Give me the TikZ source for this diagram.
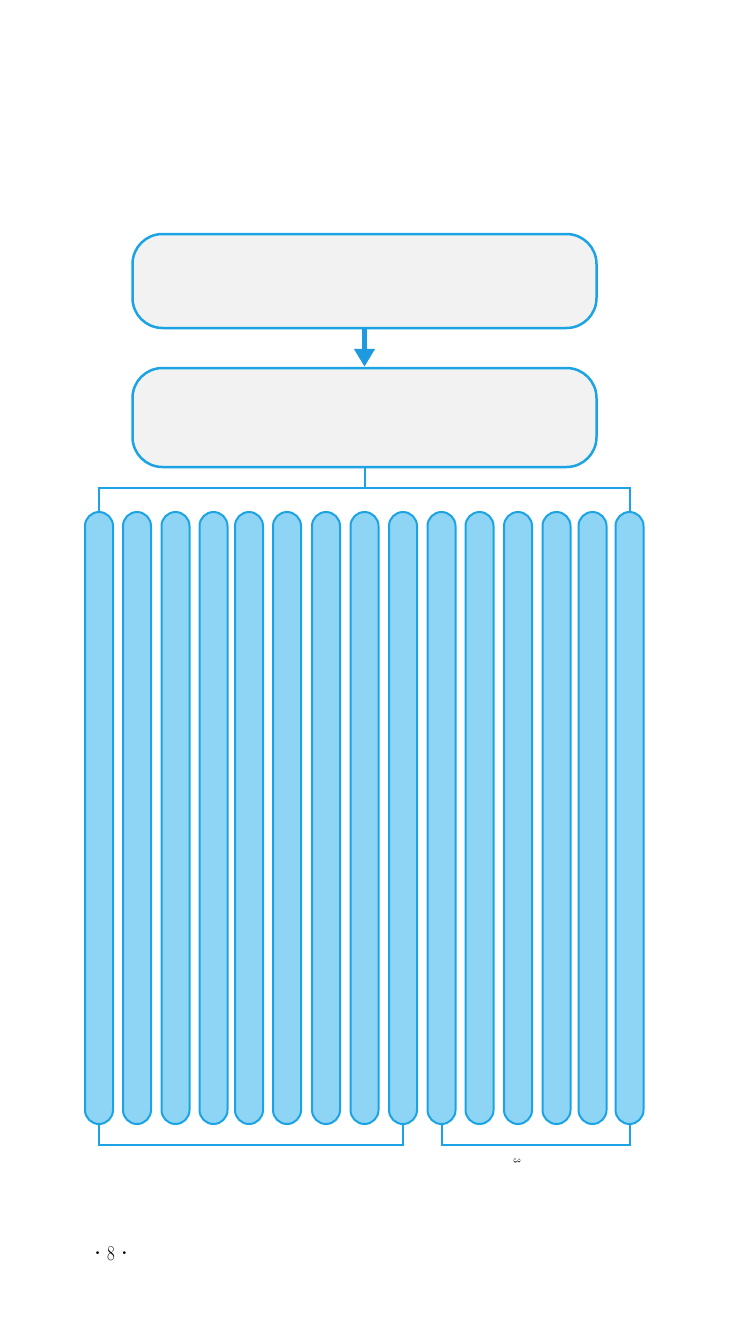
\documentclass[tikz,border=0pt]{standalone}
\usetikzlibrary{arrows.meta}
\usepackage{graphicx}
\definecolor{lineblue}{HTML}{1BA3E3}
\definecolor{arrowblue}{HTML}{1E9BE0}
\definecolor{pillfill}{HTML}{8ED4F5}
\definecolor{boxfill}{HTML}{F2F2F2}
\tikzset{
  bigbox/.style={draw=lineblue, line width=2.5pt, fill=boxfill, rounded corners=30pt,
    inner sep=0pt, minimum width=464pt},
  pill/.style={draw=lineblue, line width=2pt, fill=pillfill, rounded corners=14pt,
    inner sep=0pt, minimum width=28pt, minimum height=612pt},
  conn/.style={draw=lineblue, line width=2pt},
  bigarrow/.style={draw=arrowblue, line width=5pt, -{Triangle[length=18pt,width=20pt]}},
}
\begin{document}
\begin{tikzpicture}[x=1pt,y=-1pt]
\useasboundingbox (0,0) rectangle (733,1343);
\fill[white] (0,0) rectangle (733,1343);

% upper boxes
\node[bigbox, minimum height=94pt] (b1) at (364.5,281) {};
\node[bigbox, minimum height=99pt] (b2) at (364.5,417.5) {};
\draw[bigarrow] (b1.south) -- (b2.north);

% pills
\foreach \i/\x in {1/99, 2/137, 3/175.5, 4/213.5, 5/249, 6/287, 7/326, 8/364.5,
  9/403, 10/441.5, 11/479.5, 12/518, 13/556.5, 14/592.5, 15/629.5}{
  \node[pill] (p\i) at (\x,818) {};
}

% bus from second box
\coordinate (busc) at (364.5,488);
\draw[conn] (b2.south) -- (busc);
\draw[conn] (p1.north) |- (busc) -| (p15.north);

% lower brackets
\coordinate (lb) at (250,1145);
\coordinate (rb) at (535,1145);
\draw[conn] (p1.south) |- (lb) -| (p9.south);
\draw[conn] (p10.south) |- (rb) -| (p15.south);

% bracket label digit
\node[inner sep=0pt, rotate=-90, font=\fontsize{10}{10}\selectfont] (three) at (517,1161) {3};

% page number
\node[inner sep=0pt, font=\fontsize{21}{21}\selectfont] (pg) at (111,1254)
  {\raisebox{0.22em}{\scalebox{0.6}{\textbullet}}\hspace{5pt}\scalebox{0.8}[1]{8}\hspace{5pt}\raisebox{0.22em}{\scalebox{0.6}{\textbullet}}};
\end{tikzpicture}
\end{document}
